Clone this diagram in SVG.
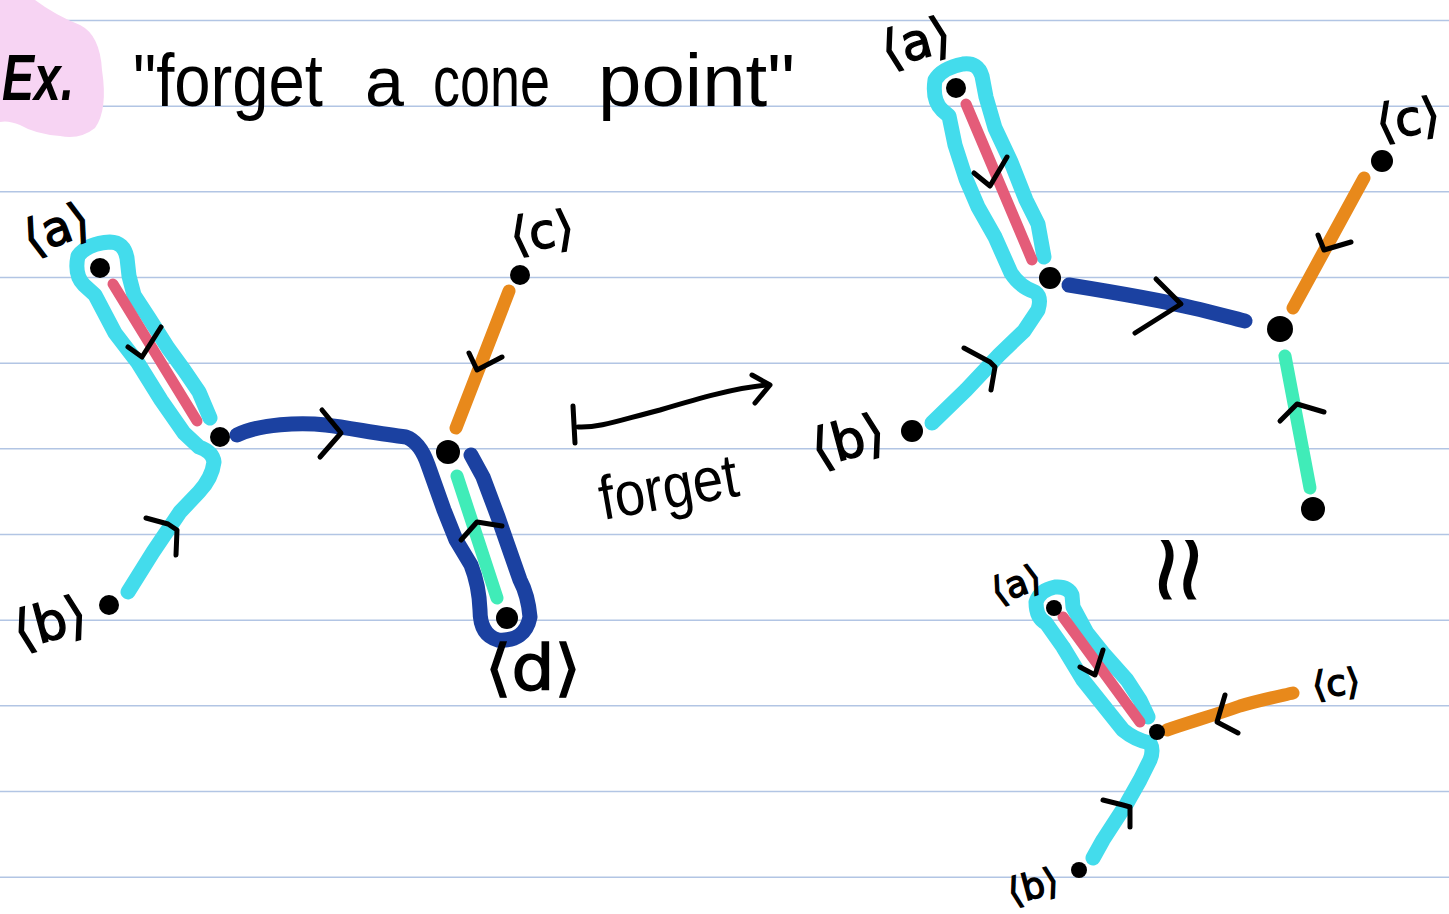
<svg xmlns="http://www.w3.org/2000/svg" width="1449" height="914" viewBox="0 0 1449 914">
<defs>
<style>
.rule{stroke:#b2c5e4;stroke-width:1.6}
.cy{fill:none;stroke:#43dcec;stroke-width:15;stroke-linecap:round;stroke-linejoin:round}
.rd{fill:none;stroke:#e45c79;stroke-width:11;stroke-linecap:round}
.bl{fill:none;stroke:#1b41a1;stroke-width:15;stroke-linecap:round;stroke-linejoin:round}
.or{fill:none;stroke:#e8891b;stroke-width:13;stroke-linecap:round}
.gr{fill:none;stroke:#40ecb8;stroke-width:13;stroke-linecap:round}
.ink{fill:none;stroke:#000;stroke-width:5;stroke-linecap:round;stroke-linejoin:round}
.dot{fill:#000}
.hw{font-family:"Liberation Sans",Arial,sans-serif;fill:#000}
.lb{font-family:"DejaVu Sans","Liberation Sans",sans-serif;fill:#000;stroke:#000;stroke-width:1.4;text-anchor:middle;dominant-baseline:central}
</style>
</defs>
<rect width="1449" height="914" fill="#fff"/>
<g id="ruled-lines">
<line class="rule" x1="0" y1="20.5" x2="1449" y2="20.5"/>
<line class="rule" x1="0" y1="106.2" x2="1449" y2="106.2"/>
<line class="rule" x1="0" y1="191.8" x2="1449" y2="191.8"/>
<line class="rule" x1="0" y1="277.5" x2="1449" y2="277.5"/>
<line class="rule" x1="0" y1="363.2" x2="1449" y2="363.2"/>
<line class="rule" x1="0" y1="448.8" x2="1449" y2="448.8"/>
<line class="rule" x1="0" y1="534.5" x2="1449" y2="534.5"/>
<line class="rule" x1="0" y1="620.2" x2="1449" y2="620.2"/>
<line class="rule" x1="0" y1="705.8" x2="1449" y2="705.8"/>
<line class="rule" x1="0" y1="791.5" x2="1449" y2="791.5"/>
<line class="rule" x1="0" y1="877.2" x2="1449" y2="877.2"/>
</g>
<g id="title">
<path d="M0 0 L35 0 Q55 15 80 25 Q100 35 102 70 Q108 110 95 128 Q80 140 60 136 Q35 134 20 125 Q8 120 0 122 Z" fill="#f7d4f3"/>
<text class="hw" x="2" y="100" font-size="64" font-weight="bold" font-style="italic" textLength="72" lengthAdjust="spacingAndGlyphs">Ex.</text>
<text class="hw" x="133" y="106" font-size="74" textLength="190" lengthAdjust="spacingAndGlyphs">"forget</text>
<text class="hw" x="365" y="106" font-size="70">a</text>
<text class="hw" x="433" y="106" font-size="72" textLength="117" lengthAdjust="spacingAndGlyphs">cone</text>
<text class="hw" x="598" y="106" font-size="74" textLength="197" lengthAdjust="spacingAndGlyphs">point"</text>
</g>

<g id="left-diagram">
<g id="left-connectors">
<path class="cy" d="M210,418 L199,392 L184,370 L168,348 L149,318 L134,295 L129,276 L127,258 Q124,242 110,242 Q88,243 78,256 Q74,275 84,285 L95,295 L115,333 L138,363 L161,400 L184,433 L199,447 Q213,452 214,462 Q212,478 199,492 L180,512 L153,552 L128,592"/>
<path class="rd" d="M113,284 L197,421"/>
<path class="bl" d="M237,435 C260,424 300,422 326,425 C350,428 380,434 406,437 Q420,442 428,465 L444,510 L456,540 L471,565 Q479,585 480,610 Q480,635 498,640 Q525,642 530,617 Q528,595 520,580 L513,560 L498,517 L483,477 L471,455"/>
<path class="or" d="M509,291 L456,428"/>
<path class="gr" d="M457,476 L497,598"/>
<path class="ink" d="M128,347 L142,357 L161,327"/>
<path class="ink" d="M146,518 L168,524 L177,530 L176,555"/>
<path class="ink" d="M322,410 L341,433 L320,457"/>
<path class="ink" d="M469,353 L477,370 L502,357"/>
<path class="ink" d="M461,540 L477,522 L502,526"/>
</g>
<g id="left-node-a"><circle class="dot" cx="100" cy="268" r="10"/><text class="lb" x="56" y="228" font-size="48" transform="rotate(-20 56 228)">⟨a⟩</text></g>
<g id="left-node-b"><circle class="dot" cx="109" cy="605" r="10"/><text class="lb" x="50" y="622" font-size="52" transform="rotate(-15 50 622)">⟨b⟩</text></g>
<g id="left-node-c"><circle class="dot" cx="520" cy="275" r="10"/><text class="lb" x="542" y="231" font-size="48" transform="rotate(-8 542 231)">⟨c⟩</text></g>
<g id="left-node-d"><circle class="dot" cx="507" cy="618" r="11"/><text class="lb" x="533" y="667" font-size="62" textLength="96" lengthAdjust="spacingAndGlyphs">⟨d⟩</text></g>
<g id="left-vertex-1"><circle class="dot" cx="220" cy="437" r="10"/></g>
<g id="left-vertex-2"><circle class="dot" cx="448" cy="452" r="12"/></g>
</g>

<g id="forget-arrow">
<path class="ink" stroke-width="13" d="M573,406 L575,443"/>
<path class="ink" stroke-width="7" d="M578,427 C600,428 620,420 660,410 C700,398 735,388 767,385"/>
<path class="ink" stroke-width="7" d="M752,375 L770,385 L755,403"/>
<text class="hw" x="603" y="520" font-size="62" textLength="140" lengthAdjust="spacingAndGlyphs" transform="rotate(-10 603 520)">forget</text>
</g>

<g id="top-right-diagram">
<g id="tr-connectors">
<path class="cy" d="M1044,257 L1038,224 L1026,200 L1011,162 L995,128 L986,97 L982,76 Q978,62 963,64 Q942,68 935,80 Q932,100 942,110 L949,116 L955,145 L966,179 L978,207 L995,237 L1011,273 Q1020,287 1035,292 Q1042,297 1038,310 L1024,331 L999,355 L966,390 L932,423"/>
<path class="rd" d="M966,104 L1032,260"/>
<path class="bl" d="M1069,285 C1100,290 1160,300 1193,308 C1215,313 1232,318 1245,321"/>
<path class="or" d="M1364,178 L1293,308"/>
<path class="gr" d="M1285,356 L1310,488"/>
<path class="ink" d="M974,173 L990,186 L1007,157"/>
<path class="ink" d="M964,348 L990,362 L995,367 L991,390"/>
<path class="ink" d="M1156,279 L1181,304 L1135,333"/>
<path class="ink" d="M1318,235 L1324,250 L1351,242"/>
<path class="ink" d="M1280,421 L1297,404 L1324,412"/>
</g>
<g id="tr-node-a"><circle class="dot" cx="956" cy="88" r="10"/><text class="lb" x="916" y="42" font-size="50" transform="rotate(-15 916 42)">⟨a⟩</text></g>
<g id="tr-node-b"><circle class="dot" cx="912" cy="431" r="11"/><text class="lb" x="848" y="440" font-size="52" transform="rotate(-15 848 440)">⟨b⟩</text></g>
<g id="tr-node-c"><circle class="dot" cx="1382" cy="161" r="11"/><text class="lb" x="1408" y="118" font-size="48" transform="rotate(-8 1408 118)">⟨c⟩</text></g>
<g id="tr-node-d"><circle class="dot" cx="1313" cy="509" r="12"/></g>
<g id="tr-vertex-1"><circle class="dot" cx="1050" cy="278" r="11"/></g>
<g id="tr-vertex-2"><circle class="dot" cx="1280" cy="329" r="13"/></g>
</g>

<g id="iso-sign">
<text class="hw" x="1181" y="570" font-size="120" text-anchor="middle" dominant-baseline="central" transform="rotate(90 1181 570)">≈</text>
</g>

<g id="bottom-right-diagram">
<g id="br-connectors">
<path class="cy" d="M1148,717 L1140,700 L1127,680 L1103,653 L1087,633 L1073,607 L1072,595 Q1068,586 1055,587 Q1040,590 1036,602 Q1036,618 1046,623 L1063,647 L1083,680 L1107,710 L1123,730 Q1135,740 1150,743 Q1154,750 1150,760 L1140,780 L1127,803 L1103,840 L1093,858"/>
<path class="rd" stroke-width="10" d="M1063,617 L1140,722"/>
<path class="or" stroke-width="12" d="M1167,730 C1190,722 1215,715 1240,706 C1260,700 1280,696 1293,693"/>
<path class="ink" stroke-width="4" d="M1080,667 L1095,675 L1103,650"/>
<path class="ink" stroke-width="4" d="M1103,800 L1123,805 L1130,807 L1130,827"/>
<path class="ink" stroke-width="4" d="M1225,695 L1217,722 L1238,733"/>
</g>
<g id="br-node-a"><circle class="dot" cx="1054" cy="608" r="8"/><text class="lb" x="1016" y="584" font-size="36" stroke-width="1" transform="rotate(-20 1016 584)">⟨a⟩</text></g>
<g id="br-node-b"><circle class="dot" cx="1079" cy="870" r="8"/><text class="lb" x="1033" y="886" font-size="36" stroke-width="1" transform="rotate(-15 1033 886)">⟨b⟩</text></g>
<g id="br-node-c"><text class="lb" x="1336" y="683" font-size="36" stroke-width="1" transform="rotate(-5 1336 683)">⟨c⟩</text></g>
<g id="br-vertex"><circle class="dot" cx="1157" cy="732" r="8"/></g>
</g>
</svg>
